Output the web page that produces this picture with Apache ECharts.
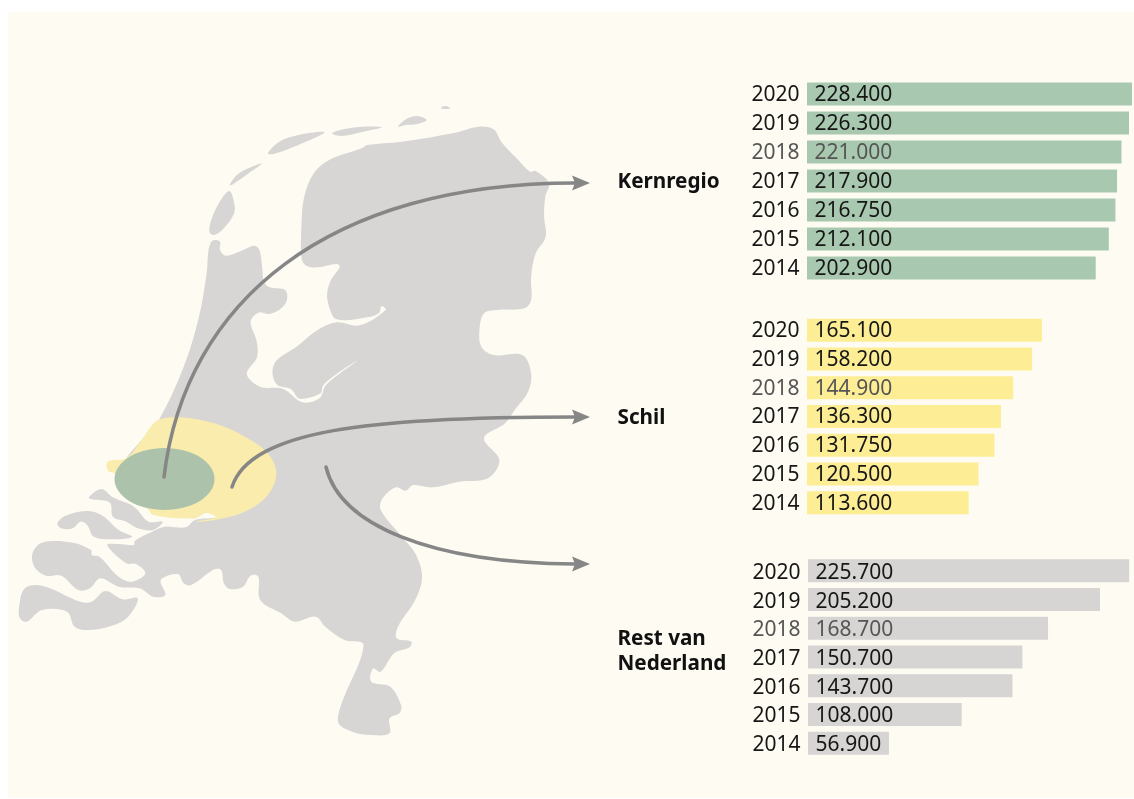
<!DOCTYPE html>
<html>
<head>
<meta charset="utf-8">
<title>Kernregio, schil en rest van Nederland</title>
<script src="https://cdn.jsdelivr.net/npm/echarts@6/dist/echarts.min.js"></script>
<style>
  html, body { margin: 0; padding: 0; background: #ffffff; }
  #main { width: 1134px; height: 799px; }
</style>
</head>
<body>
<div id="main"></div>
<script>
const years = ['2020', '2019', '2018', '2017', '2016', '2015', '2014'];
const kernregio = [228400, 226300, 221000, 217900, 216750, 212100, 202900];
const schil = [165100, 158200, 144900, 136300, 131750, 120500, 113600];
const rest = [225700, 205200, 168700, 150700, 143700, 108000, 56900];
const axisMax = 228400;

// map outline, traced in two pieces from the picture
const coastNorth = [[555,452],[575,455],[575,480],[590,497],[625,485],[665,467],[678,480],[685,530],[690,575],[705,592],[745,600],[750,630],[735,655],[705,672],[675,668],[655,695],[670,750],[672,800],[645,852],[680,890],[740,897],[790,937],[835,925],[852,885],[932,813],[880,852],[845,885],[838,910],[800,925],[780,925],[760,897],[725,885],[712,850],[722,812],[775,770],[830,720],[880,697],[940,706],[1008,660],[997,648],[990,670],[960,682],[880,688],[860,650],[855,610],[865,570],[888,530],[880,522],[830,532],[800,527],[788,505],[788,400],[795,320],[820,250],[860,210],[945,175],[960,165],[1050,155],[1190,128],[1250,110],[1290,118],[1310,155],[1350,205],[1385,245],[1400,243],[1435,280],[1425,320],[1422,380],[1426,440],[1400,490],[1388,560],[1388,630],[1370,655],[1300,660],[1265,670],[1253,720],[1258,770],[1290,795],[1365,795],[1388,850],[1380,905]];
const coastSouth = [[1345,0],[1320,40],[1265,85],[1305,150],[1275,205],[1200,215],[1130,232],[1080,225],[1060,242],[1035,232],[1000,265],[995,300],[1050,380],[1085,430],[1103,500],[1085,570],[1040,650],[1037,685],[1075,695],[1070,712],[1030,730],[995,785],[975,775],[970,815],[1020,830],[1048,885],[1045,908],[1018,925],[1018,970],[970,975],[920,965],[885,940],[890,890],[950,705],[900,690],[850,650],[825,620],[770,635],[735,610],[680,570],[675,500],[655,497],[635,530],[600,537],[585,520],[578,480],[560,478],[500,525],[480,520],[465,492],[420,510],[432,555],[400,560],[365,535],[310,530],[262,505],[235,535],[205,540],[160,497],[120,497],[90,470],[85,430],[110,398],[190,398],[238,420],[240,435],[260,440],[310,500],[345,515],[380,490],[355,462],[330,460],[280,405],[310,402],[350,405],[352,393],[385,372],[430,350],[485,352],[510,330],[565,322],[540,308],[505,325],[400,310],[385,295],[340,250],[320,170],[370,90]];
const coastWest = [[415,990],[480,830],[520,680],[540,550],[545,480]];
const islandsNorth = [
  [[600,303],[612,340],[612,370],[585,415],[560,435],[547,425],[555,380],[580,325]],
  [[600,285],[625,250],[685,220],[650,250],[610,282]],
  [[700,190],[730,155],[780,135],[848,127],[780,165],[715,192]],
  [[868,130],[900,117],[950,110],[998,112],[950,125],[890,138]],
  [[1040,110],[1065,85],[1090,78],[1115,90],[1090,102],[1060,105]],
  [[1152,53],[1165,48],[1177,55],[1160,57]]
];
const islandsSouth = [
  [[232,262],[265,237],[295,262],[350,290],[388,335],[425,335],[400,360],[360,355],[330,335],[295,320],[287,278],[240,268]],
  [[150,340],[170,318],[225,303],[265,315],[310,360],[345,380],[300,388],[245,380],[228,345],[210,335],[190,355],[160,355]],
  [[50,590],[65,535],[110,527],[210,575],[240,575],[275,543],[320,568],[360,565],[335,620],[290,648],[230,660],[195,650],[175,605],[110,600],[70,635],[52,625]]
];
const schilArea = [[278,165],[285,152],[330,145],[370,90],[410,32],[470,22],[560,40],[640,80],[700,130],[722,190],[700,255],[640,305],[560,330],[510,335],[565,322],[540,308],[505,325],[400,315],[385,295],[340,265],[305,225],[300,190],[285,185]];

const toNorth = (pts) => pts.map((p) => [p[0] * 600 / 1568, 90 + p[1] / 3]);
const toSouth = (pts) => pts.map((p) => [p[0] * 600 / 1568, 410 + p[1] / 3]);

const land = '#d7d6d4';
const arrowColor = '#868686';
const textDark = '#161616';
const textDim = '#555555'; // 2018 staat in de bron lichter

function shape(points, fill, smooth) {
  return {
    type: 'polygon',
    silent: true,
    shape: { points: points, smooth: smooth === undefined ? 0.35 : smooth },
    style: { fill: fill }
  };
}

function arrow(x0, y0, cx1, cy1, cx2, cy2, x1, y1) {
  return [
    {
      type: 'bezierCurve',
      silent: true,
      shape: { x1: x0, y1: y0, cpx1: cx1, cpy1: cy1, cpx2: cx2, cpy2: cy2, x2: x1, y2: y1 },
      style: { stroke: arrowColor, lineWidth: 3.5, fill: null, lineCap: 'round' }
    },
    shape([[x1 - 3, y1 - 7.5], [x1 + 15, y1], [x1 - 3, y1 + 7.5], [x1, y1]], arrowColor, 0)
  ];
}

function dotted(v) {
  return String(v).replace(/\B(?=(\d{3})+$)/g, '.');
}

const grids = [
  { left: 807, top: 79.5, width: 325, height: 203 },
  { left: 807, top: 316, width: 325, height: 201 },
  { left: 808, top: 556.5, width: 325, height: 201 }
];
const colors = ['#a8c9b0', '#fdee95', '#d6d5d3'];
const values = [kernregio, schil, rest];
// text sits a little low in the bars, most in the lower block
const textDrop = [1, 1, 2];

const myChart = echarts.init(document.getElementById('main'), null, { renderer: 'canvas' });
myChart.setOption({
  animation: false,
  textStyle: { fontFamily: '"Noto Sans", sans-serif' },
  title: [
    { text: 'Kernregio', left: 617.5, top: 170 },
    { text: 'Schil', left: 617.5, top: 406 },
    { text: 'Rest van\nNederland', left: 617.5, top: 627 }
  ].map((t) => Object.assign(t, {
    padding: 0,
    textStyle: { fontFamily: '"Noto Sans", sans-serif', fontSize: 20.7, fontWeight: 'bold', color: '#111111', lineHeight: 25 }
  })),
  grid: grids,
  xAxis: grids.map((g, i) => ({ type: 'value', gridIndex: i, min: 0, max: axisMax, show: false })),
  yAxis: grids.map((g, i) => ({
    type: 'category',
    gridIndex: i,
    inverse: true,
    data: years,
    axisLine: { show: false },
    axisTick: { show: false },
    axisLabel: {
      margin: 7.5,
      formatter: (v) => (v === '2018' ? '{dim|' : '{dark|') + v + '}',
      rich: {
        dark: { fontSize: 21, color: textDark, padding: [textDrop[i] * 2, 0, 0, 0] },
        dim: { fontSize: 21, color: textDim, padding: [textDrop[i] * 2, 0, 0, 0] }
      }
    }
  })),
  series: values.map((vals, i) => ({
    type: 'bar',
    xAxisIndex: i,
    yAxisIndex: i,
    barWidth: 23,
    itemStyle: { color: colors[i] },
    label: { show: true, position: 'insideLeft', distance: 7.5, fontSize: 21, offset: [0, textDrop[i]], formatter: (p) => dotted(p.value) },
    data: vals.map((v, j) => ({ value: v, label: { color: years[j] === '2018' ? textDim : textDark } }))
  })),
  graphic: [
    { type: 'rect', silent: true, z: -10, shape: { x: 8, y: 12, width: 1126, height: 786 }, style: { fill: '#fefbf3' } },
    shape(toNorth(coastNorth).concat(toSouth(coastSouth)).concat(toNorth(coastWest)), land),
    ...islandsNorth.map((p) => shape(toNorth(p), land)),
    ...islandsSouth.map((p) => shape(toSouth(p), land)),
    shape(toSouth(schilArea), '#faecac'),
    {
      type: 'ellipse',
      silent: true,
      shape: { cx: 164.5, cy: 479, rx: 50, ry: 31 },
      style: { fill: '#adc2ab' }
    },
    ...arrow(164, 477, 185, 300, 330, 183, 575, 183),
    ...arrow(232, 487, 250, 430, 370, 417, 575, 417),
    ...arrow(326, 467, 340, 525, 430, 563, 575, 564)
  ]
});
</script>
</body>
</html>
